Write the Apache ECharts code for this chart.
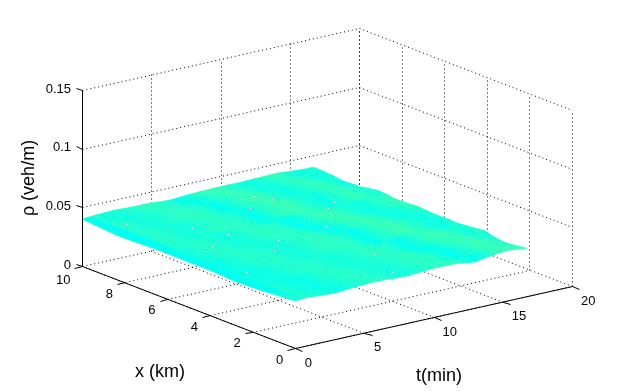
<!DOCTYPE html>
<html><head><meta charset="utf-8">
<style>html,body{margin:0;padding:0;background:#fff}#c{width:633px;height:391px}</style>
<script src="https://cdn.jsdelivr.net/npm/echarts@6/dist/echarts.min.js"></script>
</head><body><div id="c"></div>
<script>
// Axis ticks
const tTicks = [0, 5, 10, 15, 20];
const xTicks = [0, 2, 4, 6, 8, 10];
const rhoTicks = [0, 0.05, 0.1, 0.15];
const tLabelTitle = 't(min)';
const xLabelTitle = 'x (km)';
const rhoLabelTitle = 'ρ (veh/m)';

// Surface nodes
const tNodes = [0,0.5,1,1.5,2,2.5,3,3.5,4,4.5,5,5.5,6,6.5,7,7.5,8,8.5,9,9.5,10,10.5,11,11.5,12,12.5,13,13.5,14,14.5,15,15.5,16,16.5,16.75];
const xNodes = [0,0.5,1,1.5,2,2.5,3,3.5,4,4.5,5,5.5,6,6.5,7,7.5,8,8.5,9,9.5,10];
// density, in units of 1e-4 veh/m; one row per xNodes entry
const rhoE4 = [
[400,405,408,402,398,396,394,397,403,407,410,412,411,411,405,402,400,403,407,411,415,416,414,413,408,398,390,400,411,418,424,426,418,412,408],
[395,406,404,396,398,391,399,401,409,408,415,409,413,403,404,397,405,405,414,413,418,412,415,405,400,388,403,409,421,422,428,415,413,402,395],
[388,409,400,399,395,393,396,404,405,411,410,413,408,406,400,402,404,409,411,417,414,416,411,410,396,392,399,413,416,426,424,420,410,398,383],
[381,400,400,394,396,395,405,405,412,410,413,409,407,400,402,401,408,409,417,414,416,411,410,396,392,398,413,416,426,424,420,410,408,398,395],
[376,396,398,392,399,401,409,408,414,409,413,403,404,398,405,405,413,413,418,412,415,406,400,388,402,409,420,422,428,416,414,404,402,410,420],
[372,399,394,396,395,405,405,412,410,413,409,406,401,401,404,408,412,417,414,415,411,409,396,392,398,413,416,426,424,420,410,408,398,400,408],
[371,394,396,395,405,405,412,409,413,403,404,398,405,405,413,413,418,412,415,406,400,388,402,409,420,422,428,416,414,404,402,394,405,400,398],
[378,392,399,401,409,408,414,409,413,403,404,398,405,409,413,417,414,416,411,410,396,392,398,413,416,426,424,420,410,408,398,398,401,414,392],
[383,396,395,405,405,412,410,413,409,407,400,402,401,408,409,417,414,416,411,406,400,388,402,409,420,422,428,416,414,404,402,394,405,410,384],
[384,399,401,409,408,414,409,413,403,404,398,405,405,413,413,418,412,415,406,400,392,398,413,416,426,424,420,410,408,398,398,401,414,416,372],
[383,401,409,408,414,409,413,403,404,398,405,409,413,417,414,416,411,410,396,392,398,413,416,426,424,420,410,408,398,398,401,414,416,422,370],
[384,405,405,412,410,413,407,404,398,405,405,413,413,418,412,415,406,400,388,402,409,420,422,428,416,414,404,402,394,405,410,420,418,414,381],
[385,409,408,414,409,413,403,404,398,405,409,413,417,414,416,411,410,396,392,398,413,416,426,424,420,410,408,398,398,401,414,416,422,412,392],
[386,412,410,413,403,404,398,405,409,413,417,414,416,411,410,396,392,398,413,416,426,424,420,410,408,398,398,401,414,416,422,412,406,402,405],
[383,410,413,409,407,400,402,401,408,409,413,418,412,415,406,400,388,402,409,420,422,428,416,414,404,402,394,405,410,420,418,416,402,410,412],
[380,413,409,413,403,404,398,405,405,413,413,418,412,415,406,400,392,398,413,416,426,424,420,410,408,398,398,401,414,416,422,412,406,396,396],
[377,409,413,403,404,398,405,409,413,417,414,416,411,410,396,392,398,413,416,426,424,420,410,408,398,398,401,414,416,422,412,406,396,400,378],
[378,413,409,407,400,402,401,408,409,417,414,416,411,406,400,388,402,409,420,422,428,416,414,404,402,394,405,410,420,418,416,402,400,392,373],
[385,409,403,404,398,405,405,413,413,418,412,415,406,400,392,398,413,416,426,424,420,410,408,398,398,401,414,416,422,412,406,396,400,406,385],
[393,407,400,402,401,408,409,417,414,416,411,410,396,392,398,413,416,426,424,420,410,408,398,398,401,414,416,422,412,406,396,400,406,402,395],
[400,404,408,410,413,414,410,408,407,407,405,400,396,394,399,404,407,409,410,412,412,413,411,411,413,415,416,418,419,415,410,406,402,401,400]
];
// small holes in the surface, read as (t, x)
const gapT = [10.04,9.83,10.58,10.39,9.94,11.31,11.14,7.54,8.94,6.84,10.10,3.93,4.86,5.35,6.47,6.58,7.93,6.34,5.85,5.10,4.67,3.40,1.32,2.14,2.14,1.93,2.72,3.21,4.12,16.10,14.10,13.18,13.56,12.59,12.42,10.35,8.66,13.93,12.70,11.88,9.15,8.87,8.62,5.67,5.24,15.62,13.65,7.89,6.27,2.08,1.42,2.28,6.20,1.24];
const gapX = [9.53,9.21,8.80,8.48,8.15,8.65,8.31,8.46,7.93,9.61,6.14,7.38,6.30,5.62,4.99,4.67,4.77,4.15,4.62,4.29,4.05,4.04,4.50,5.62,5.41,5.37,5.68,3.39,2.83,7.78,7.80,7.66,6.98,6.62,7.22,5.27,4.69,4.21,3.45,3.03,2.24,1.73,1.10,2.70,2.13,1.94,0.66,0.59,0.28,9.18,8.85,7.40,9.85,3.11];
const gapRho = 0.04;

// Orthographic view of the box
const origin = [295, 348];
const perT = [277 / 20, -62 / 20];
const perX = [-213 / 10, -82 / 10];
const perRho = -176 / 0.15;
const tMax = 20, xMax = 10, rhoMax = 0.15;

function proj(t, x, z) {
  return [origin[0] + t * perT[0] + x * perX[0],
          origin[1] + t * perT[1] + x * perX[1] + z * perRho];
}
function rhoColor(v) {
  const r = Math.max(0, Math.min(62, (v - 388) * 1.5));
  return 'rgb(' + Math.round(r) + ',255,' + Math.round(240 - r) + ')';
}
const snap = (p) => [Math.round(p[0]) + 0.5, Math.round(p[1]) + 0.5];

// straight pieces of the box, in data units
const dotted = [], solid = [];
function seg(list, a, b) { list.push([a, b]); }
tTicks.forEach(t => {
  seg(dotted, [t, 0, 0], [t, xMax, 0]);
  seg(dotted, [t, xMax, 0], [t, xMax, rhoMax]);
});
xTicks.forEach(x => {
  seg(dotted, [0, x, 0], [tMax, x, 0]);
  seg(dotted, [tMax, x, 0], [tMax, x, rhoMax]);
});
rhoTicks.slice(1).forEach(z => {
  seg(dotted, [0, xMax, z], [tMax, xMax, z]);
  seg(dotted, [tMax, xMax, z], [tMax, 0, z]);
});
seg(solid, [0, 0, 0], [tMax, 0, 0]);
seg(solid, [0, 0, 0], [0, xMax, 0]);
seg(solid, [0, xMax, 0], [0, xMax, rhoMax]);
tTicks.forEach(t => seg(solid, [t, 0, 0], [t, -0.35, 0]));
xTicks.forEach(x => seg(solid, [0, x, 0], [-0.55, x, 0]));
rhoTicks.forEach(z => seg(solid, [0, xMax, z], [0, xMax + 0.3, z]));

const tickFont = '13px "Liberation Sans", Arial, sans-serif';
const titleFont = '18px "Liberation Sans", Arial, sans-serif';
const texts = [];
tTicks.forEach(t => texts.push({ s: String(t), p: proj(t, -1.0, 0), dx: t < 10 ? -8 : -5, dy: 7 }));
xTicks.forEach(x => texts.push({ s: String(x), p: proj(-1.0, x, 0), dx: x === 10 ? -5 : -1.5, dy: x === 10 ? 11 : 9 }));
rhoTicks.forEach(z => texts.push({ s: String(z), p: proj(0, xMax, z), dx: -11, dy: -1, align: 'right' }));

const cells = [];
for (let j = xNodes.length - 2; j >= 0; j--)
  for (let i = tNodes.length - 2; i >= 0; i--) cells.push([i, j]);

function poly(api, pts, fill) {
  return { type: 'polygon', shape: { points: pts.map(p => api.coord(p)) },
           style: { fill: fill, stroke: fill, lineWidth: 0.7 } };
}
function lines(list, dash, width) {
  return (params, api) => {
    const s = list[params.dataIndex];
    const a = snap(proj(...s[0])), b = snap(proj(...s[1]));
    const pa = api.coord(a), pb = api.coord(b);
    return { type: 'line', shape: { x1: pa[0], y1: pa[1], x2: pb[0], y2: pb[1] },
             style: { stroke: '#000', lineWidth: width, lineDash: dash, fill: null } };
  };
}
const idx = (list) => list.map((_, i) => [i]);

const chart = echarts.init(document.getElementById('c'), null, { renderer: 'canvas' });
chart.setOption({
  animation: false,
  backgroundColor: '#fff',
  grid: { left: 0, right: 0, top: 0, bottom: 0 },
  xAxis: { type: 'value', min: 0, max: 633, show: false },
  yAxis: { type: 'value', min: 0, max: 391, inverse: true, show: false },
  series: [
    { type: 'custom', coordinateSystem: 'cartesian2d', silent: true, clip: false, z: 1,
      data: idx(dotted), renderItem: lines(dotted, [1, 3], 1) },
    { type: 'custom', coordinateSystem: 'cartesian2d', silent: true, clip: false, z: 2,
      data: cells,
      renderItem: (params, api) => {
        const [i, j] = cells[params.dataIndex];
        const P = (a, b) => proj(tNodes[a], xNodes[b], rhoE4[b][a] * 1e-4);
        return poly(api, [P(i, j), P(i + 1, j), P(i + 1, j + 1), P(i, j + 1)], rhoColor(rhoE4[j][i]));
      } },
    { type: 'custom', coordinateSystem: 'cartesian2d', silent: true, clip: false, z: 3,
      data: gapT.map((t, k) => [t, gapX[k]]),
      renderItem: (params, api) => {
        const p = api.coord(proj(gapT[params.dataIndex], gapX[params.dataIndex], gapRho));
        return { type: 'rect', shape: { x: Math.round(p[0]), y: Math.round(p[1]), width: 1, height: 1 },
                 style: { fill: '#fff' } };
      } },
    { type: 'custom', coordinateSystem: 'cartesian2d', silent: true, clip: false, z: 4,
      data: idx(solid), renderItem: lines(solid, null, 1) },
    { type: 'custom', coordinateSystem: 'cartesian2d', silent: true, clip: false, z: 5,
      data: idx(texts),
      renderItem: (params, api) => {
        const d = texts[params.dataIndex];
        const p = api.coord(d.p);
        return { type: 'text', x: p[0] + d.dx, y: p[1] + d.dy,
                 style: { text: d.s, font: tickFont, fill: '#000', align: d.align || 'center', verticalAlign: 'middle' } };
      } }
  ],
  graphic: [
    { type: 'text', x: 160, y: 372, silent: true, style: { text: xLabelTitle, font: titleFont, fill: '#000', align: 'center', verticalAlign: 'middle' } },
    { type: 'text', x: 439, y: 376, silent: true, style: { text: tLabelTitle, font: titleFont, fill: '#000', align: 'center', verticalAlign: 'middle' } },
    { type: 'text', x: 29, y: 178, rotation: Math.PI / 2, silent: true, style: { text: rhoLabelTitle, font: titleFont, fill: '#000', align: 'center', verticalAlign: 'middle' } }
  ]
});
</script></body></html>
